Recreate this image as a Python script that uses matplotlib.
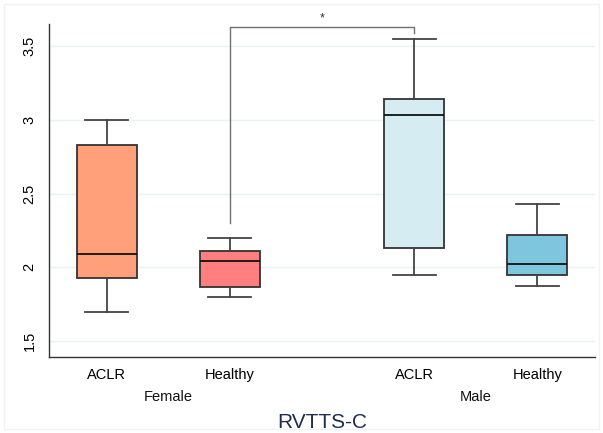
import matplotlib
matplotlib.use("Agg")
import matplotlib.pyplot as plt
from matplotlib.patches import Rectangle
from matplotlib.transforms import blended_transform_factory

plt.rcParams['font.family'] = ['Liberation Sans', 'DejaVu Sans']

# Data
groups = ["Female", "Female", "Male", "Male"]
conditions = ["ACLR", "Healthy", "ACLR", "Healthy"]
whisker_low = [1.70, 1.80, 1.95, 1.87]
q1 = [1.925, 1.865, 2.13, 1.945]
median = [2.09, 2.04, 3.03, 2.02]
q3 = [2.83, 2.11, 3.14, 2.22]
whisker_high = [3.00, 2.20, 3.55, 2.43]
colors = ["#FFA07A", "#FF7F7F", "#D6ECF3", "#7EC5DE"]
positions = [0, 1, 2.5, 3.5]
yticks = [1.5, 2, 2.5, 3, 3.5]
ytick_labels = ["1.5", "2", "2.5", "3", "3.5"]
group_names = ["Female", "Male"]
title = "RVTTS-C"
sig_pair = (1, 2)
sig_text = "*"
sig_bottoms = [2.30, 3.59]
sig_top = 3.63

fig = plt.figure(figsize=(6.03, 4.33), dpi=100)
W, H = 603, 433
ax = fig.add_axes([49 / W, 1 - 357 / H, (595 - 49) / W, (357 - 24) / H])

stats = []
for i in range(len(positions)):
    stats.append(dict(whislo=whisker_low[i], q1=q1[i], med=median[i],
                      q3=q3[i], whishi=whisker_high[i], fliers=[], label=conditions[i]))

bp = ax.bxp(stats, positions=positions, widths=0.49, patch_artist=True,
            showfliers=False,
            boxprops=dict(edgecolor="#333333", linewidth=1.3),
            medianprops=dict(color="#111111", linewidth=1.3),
            whiskerprops=dict(color="#444444", linewidth=1.3),
            capprops=dict(color="#444444", linewidth=1.3),
            capwidths=0.35)
for patch, c in zip(bp['boxes'], colors):
    patch.set_facecolor(c)

ax.set_xlim(-0.47, 3.97)
ax.set_ylim(1.392, 3.649)
ax.set_yticks(yticks)
ax.set_yticklabels(ytick_labels, rotation=90, va='center', fontsize=10.5)
ax.set_xticks(positions)
ax.set_xticklabels(conditions, fontsize=10.5)
ax.tick_params(axis='y', length=0, pad=9)
ax.tick_params(axis='x', length=0, pad=8)
ax.grid(axis='y', color="#EAF2F4", linewidth=1.0)
ax.set_axisbelow(True)
for s in ['top', 'right']:
    ax.spines[s].set_visible(False)
for s in ['left', 'bottom']:
    ax.spines[s].set_color("#333333")
    ax.spines[s].set_linewidth(1.0)

# group labels
trans = blended_transform_factory(ax.transData, fig.transFigure)
for gi, name in enumerate(group_names):
    xs = [p for p, g in zip(positions, groups) if g == name]
    ax.text(sum(xs) / len(xs), 1 - 397 / H, name, transform=trans,
            ha='center', va='center', fontsize=10.5, color="#111111")

fig.text((49 + 595) / 2 / W, 1 - 422 / H, title, ha='center', va='center',
         fontsize=15, color="#1F2D4F")

# significance bracket
x1, x2 = positions[sig_pair[0]], positions[sig_pair[1]]
ax.plot([x1, x1, x2, x2], [sig_bottoms[0], sig_top, sig_top, sig_bottoms[1]],
        color="#707070", linewidth=1.0, clip_on=False)
ax.text((x1 + x2) / 2, sig_top + 0.015, sig_text, ha='center', va='bottom',
        fontsize=9, color="#333333", clip_on=False)

# faint outer frame
fig.patches.append(Rectangle((4 / W, 4 / H), (W - 8) / W, (H - 8) / H,
                             transform=fig.transFigure, fill=False,
                             edgecolor="#F0F3F5", linewidth=1.0))

fig.savefig("out.png", dpi=100)
